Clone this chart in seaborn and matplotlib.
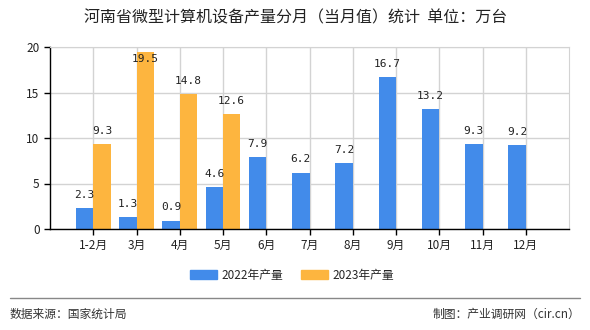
import numpy as np
import pandas as pd
import matplotlib
matplotlib.use("Agg")
import matplotlib.pyplot as plt
import seaborn as sns

months = ["1-2月", "3月", "4月", "5月", "6月", "7月", "8月", "9月", "10月", "11月", "12月"]
values_2022 = [2.3, 1.3, 0.9, 4.6, 7.9, 6.2, 7.2, 16.7, 13.2, 9.3, 9.2]
values_2023 = [9.3, 19.5, 14.8, 12.6, None, None, None, None, None, None, None]
series = ["2022年产量", "2023年产量"]
colors = ["#428BEA", "#FDB53F"]
title = "河南省微型计算机设备产量分月（当月值）统计  单位：万台"
yticks = [0, 5, 10, 15, 20]

sns.set_style("white")
plt.rcParams["font.family"] = ["Noto Sans CJK SC", "DejaVu Sans"]

df = pd.DataFrame({
    "month": months * 2,
    "value": [np.nan if v is None else v for v in values_2022 + values_2023],
    "series": [series[0]] * len(months) + [series[1]] * len(months),
})

fig = plt.figure(figsize=(5.9, 3.3), dpi=100)
ax = fig.add_axes([50 / 590, 1 - 229 / 330, (569 - 50) / 590, (229 - 47) / 330])

sns.barplot(data=df, x="month", y="value", hue="series", order=months,
            hue_order=series, palette=colors, width=0.8, saturation=1,
            linewidth=0, edgecolor="none", ax=ax, legend=False)

ax.set_xlim(-1, 11)
ax.set_ylim(0, 20)
ax.set_yticks(yticks)
ax.set_xlabel("")
ax.set_ylabel("")
ax.grid(True, color="#d3d3d3", linewidth=1)
ax.set_axisbelow(True)
for s in ["top", "right"]:
    ax.spines[s].set_visible(True)
    ax.spines[s].set_color("#d3d3d3")
for s in ["left", "bottom"]:
    ax.spines[s].set_color("black")
    ax.spines[s].set_linewidth(1)
ax.tick_params(axis="both", length=4, width=1, color="black", labelsize=8.5,
               labelcolor="#222222", direction="out", bottom=True, left=True)

ymax = ax.get_ylim()[1]
for cont in ax.containers:
    for bar in cont:
        h = bar.get_height()
        if h is None or np.isnan(h):
            continue
        if h > ymax - 1.5:
            off, va = (0, -2), "top"
        else:
            off, va = (0, 6), "bottom"
        ax.annotate(f"{h:.1f}", (bar.get_x() + bar.get_width() / 2, h),
                    xytext=off, textcoords="offset points",
                    ha="center", va=va, fontsize=8, color="#222222",
                    family=["DejaVu Sans Mono"])

fig.text(296 / 590, 1 - 18 / 330, title, ha="center", va="center",
         fontsize=11.5, color="#222222")

handles = [plt.Rectangle((0, 0), 1, 1, color=c) for c in colors]
fig.legend(handles, series, loc="center", bbox_to_anchor=(292 / 590, 1 - 275 / 330),
           ncol=2, frameon=False, fontsize=8.5, handlelength=2.3, handleheight=0.7,
           columnspacing=1.5, handletextpad=0.4)

fig.add_artist(plt.Line2D([10 / 590, 580 / 590], [1 - 298 / 330, 1 - 298 / 330],
                          color="#888888", linewidth=1))
fig.text(10 / 590, 1 - 314 / 330, "数据来源：国家统计局", ha="left", va="center",
         fontsize=8.5, color="#333333")
fig.text(580 / 590, 1 - 314 / 330, "制图：产业调研网（cir.cn）", ha="right", va="center",
         fontsize=8.5, color="#333333")

fig.savefig("out.png", dpi=100)
